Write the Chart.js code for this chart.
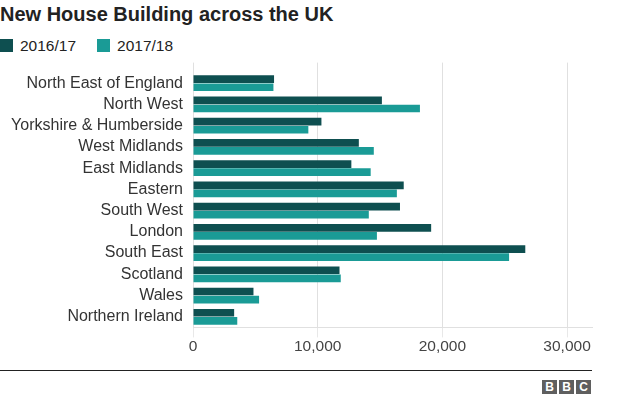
<!DOCTYPE html>
<html>
<head>
<meta charset="utf-8">
<script src="https://cdn.jsdelivr.net/npm/chart.js@4"></script>
<style>
    body { margin: 0; width: 624px; height: 395px; background: #fff; font-family: "Liberation Sans", Arial, sans-serif; position: relative; overflow: hidden; }
    .title { position: absolute; left: 0; top: 3px; font-size: 20px; font-weight: bold; color: #222; }
    .legend { position: absolute; left: 0; top: 37px; font-size: 15.5px; color: #222; }
    .legend span.sw { display: inline-block; width: 13px; height: 13px; vertical-align: -1px; margin-right: 7px; }
    .legend span.item { margin-right: 21px; }
    .chart { position: absolute; left: 0; top: 53px; width: 624px; height: 303px; }
    .rule { position: absolute; left: 0; top: 370px; width: 592px; height: 0; border-top: 1.5px solid #222; }
    .bbc { position: absolute; left: 540px; top: 377px; }
    .bbc span { display: inline-block; width: 15px; height: 14px; margin-left: 2px; background: #5f5f5f; color: #fff; font-weight: bold; font-size: 12px; line-height: 14px; text-align: center; }
</style>
</head>
<body>
<div class="title">New House Building across the UK</div>
<div class="legend" id="legend"></div>
<div class="chart"><canvas id="chart"></canvas></div>
<div class="rule"></div>
<div class="bbc"><span>B</span><span>B</span><span>C</span></div>
<script>
const regions = [
    "North East of England", "North West", "Yorkshire & Humberside", "West Midlands",
    "East Midlands", "Eastern", "South West", "London", "South East", "Scotland",
    "Wales", "Northern Ireland",
];
const seriesNames = ["2016/17", "2017/18"];
const built201617 = [6500, 15150, 10300, 13300, 12700, 16900, 16600, 19100, 26650, 11750, 4850, 3300];
const built201718 = [6450, 18200, 9250, 14500, 14250, 16350, 14100, 14750, 25350, 11850, 5300, 3550];
const xTicks = [0, 10000, 20000, 30000];
const colors = ["#0e4f50", "#1a9b96"];

document.getElementById("legend").innerHTML = seriesNames
    .map((name, i) => `<span class="item"><span class="sw" style="background:${colors[i]}"></span>${name}</span>`)
    .join("");

const ctx = document.getElementById("chart");
new Chart(ctx, {
    type: "bar",
    data: {
        labels: regions,
        datasets: [built201617, built201718].map((values, i) => {
            return {
                label: seriesNames[i],
                data: values,
                backgroundColor: colors[i],
                categoryPercentage: 0.76,
                barPercentage: 0.95,
            };
        }),
    },
    options: {
        indexAxis: "y",
        responsive: true,
        maintainAspectRatio: false,
        animation: false,
        layout: {
            padding: { top: 0, right: 32, bottom: 0, left: 0 },
        },
        plugins: {
            legend: { display: false },
            tooltip: { enabled: false },
        },
        scales: {
            x: {
                min: 0,
                max: 32000,
                afterBuildTicks: (axis) => {
                    axis.ticks = xTicks.map((v) => ({ value: v }));
                },
                grid: { color: "#e0e0e0", tickLength: 10, tickColor: "#e8e8e8" },
                border: { display: true, color: "#e0e0e0" },
                ticks: {
                    color: "#444",
                    padding: 0,
                    font: { family: "Liberation Sans", size: 15.5 },
                    callback: (v) => v.toLocaleString("en-GB"),
                },
            },
            x2: {
                position: "top",
                axis: "x",
                min: 0,
                max: 32000,
                afterBuildTicks: (axis) => {
                    axis.ticks = xTicks.map((v) => ({ value: v }));
                },
                grid: { drawOnChartArea: false, color: "#e0e0e0", tickLength: 10 },
                border: { display: false },
                ticks: { display: false },
            },
            y: {
                afterFit: (axis) => {
                    axis.width = 193;
                },
                grid: { display: false, drawTicks: false },
                border: { display: false },
                ticks: {
                    autoSkip: false,
                    color: "#333",
                    padding: 10,
                    font: { family: "Liberation Sans", size: 16 },
                },
            },
        },
    },
});
</script>
</body>
</html>
